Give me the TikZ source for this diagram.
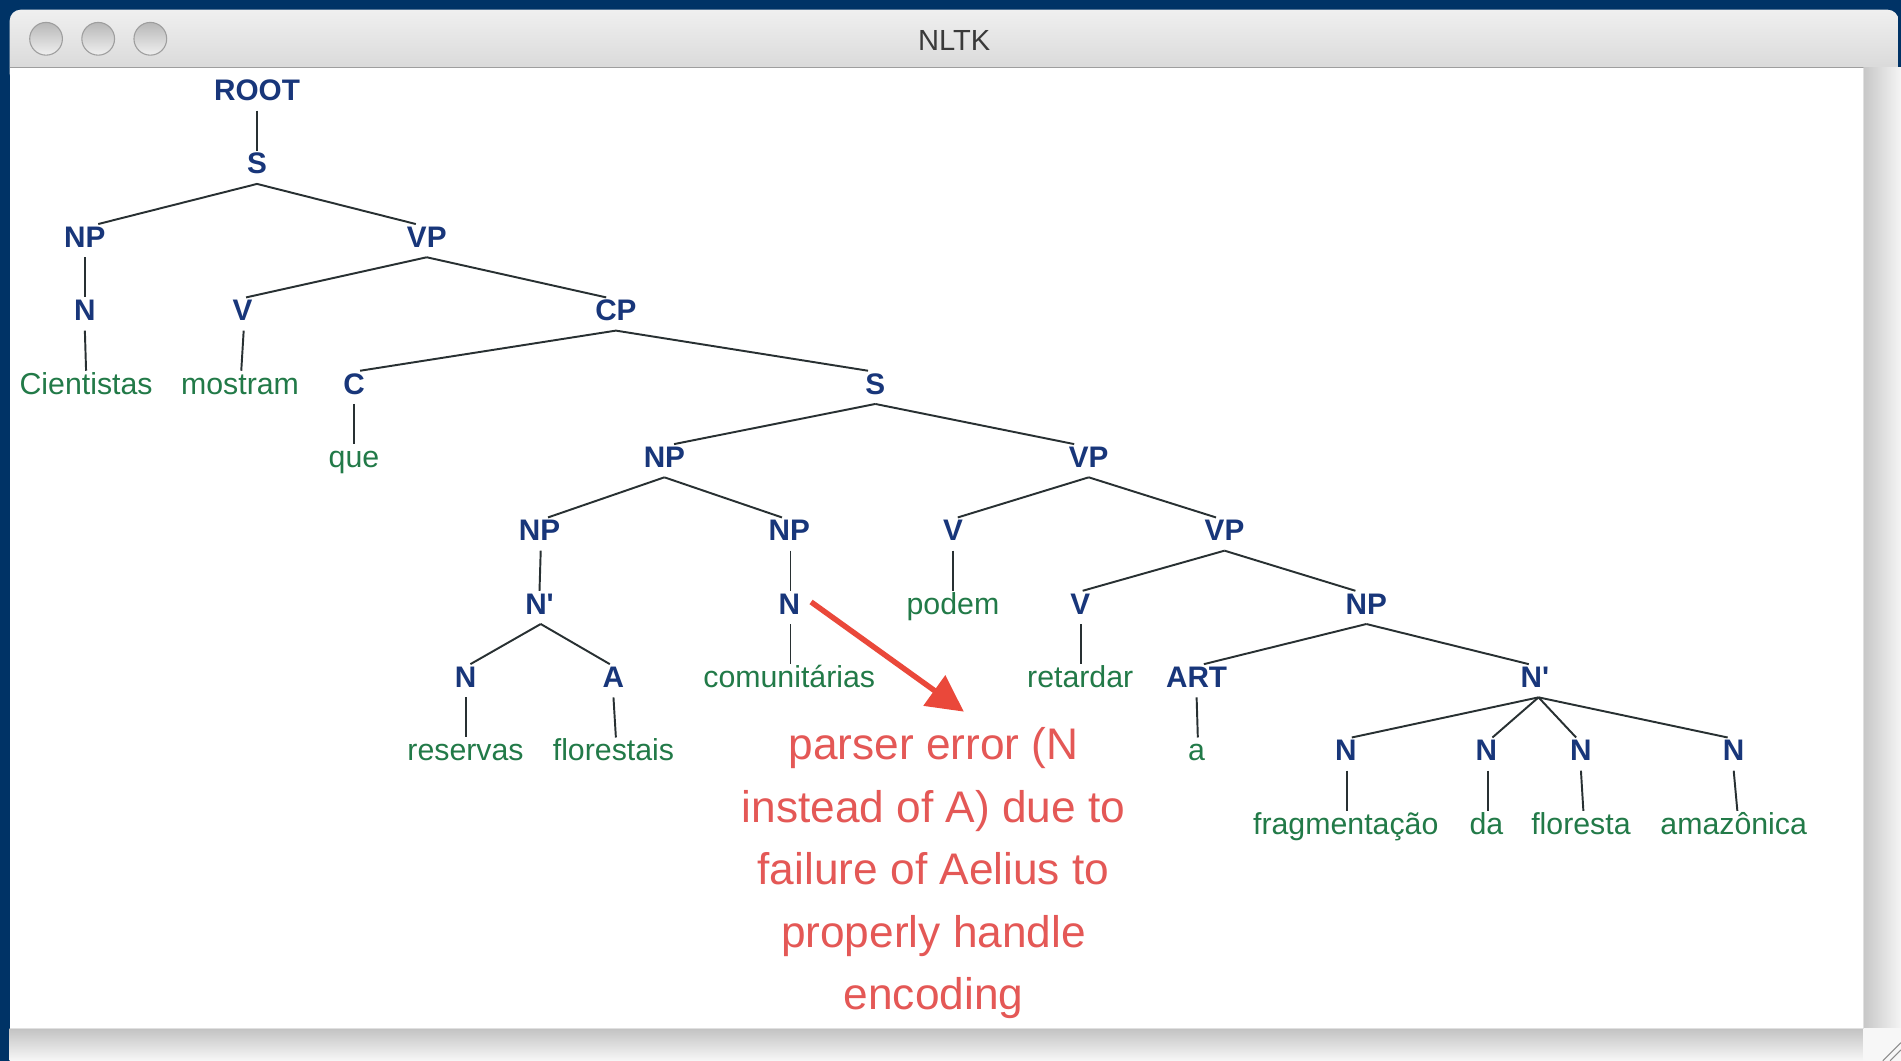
\documentclass[tikz,border=0pt]{standalone}
\usepackage{fontspec}
\setmainfont{Liberation Sans}
\newfontfamily\treefont{Liberation Sans}
\usetikzlibrary{arrows.meta,calc}

\definecolor{desk}{RGB}{0,51,102}
\definecolor{catblue}{RGB}{24,54,122}
\definecolor{wordgreen}{RGB}{34,122,72}
\definecolor{edgegray}{RGB}{40,48,50}
\definecolor{notered}{RGB}{228,88,86}
\definecolor{arrowred}{RGB}{234,72,58}
\definecolor{titlegray}{RGB}{58,58,58}

\begin{document}
\begin{tikzpicture}[x=1pt,y=-1pt,
  cat/.style={font=\treefont\fontsize{24.5}{29}\selectfont\bfseries, text=catblue,
              inner sep=0pt, text height=19pt, text depth=8pt, anchor=base},
  word/.style={font=\treefont\fontsize{25}{30}\selectfont, text=wordgreen,
              inner sep=0pt, text height=19pt, text depth=8pt, anchor=base},
  branch/.style={draw=edgegray, line width=1.6pt},
  light/.style={draw=black!38, line width=0.9pt, top color=black!28, bottom color=black!6},
]
\useasboundingbox (0,0) rectangle (1568,875);

% desktop behind the window
\fill[desk] (0,0) rectangle (1568,875);

% title bar
\shade[top color=black!6, bottom color=black!17, rounded corners=9pt]
  (8,8) rectangle (1566,70);
\fill[white] (8,56) rectangle (1537,848);
\draw[black!38, line width=1pt] (8,55.5) -- (1568,55.5);

% scroll strip on the right and status strip at the bottom
\shade[left color=black!22, right color=black!4] (1537,56) rectangle (1568,848);
\shade[top color=black!24, bottom color=black!3] (8,848) rectangle (1537,875);
\fill[black!3] (1537,848) rectangle (1568,875);
\draw[black!12, line width=0.8pt] (1537,56) -- (1537,848) -- (8,848);
\foreach \d in {0,6} {
  \draw[black!45, line width=0.9pt] (1553+\d,875) -- (1568,860+\d);
}

% window buttons
\foreach \bx [count=\i] in {38,81,124} {
  \shade[light] (\bx,32) circle (13.5);
}
\node[font=\fontsize{24}{28}\selectfont, text=titlegray] (title) at (787,33) {NLTK};

% ---------- parse tree ----------
\node[cat] (root) at (212,83) {ROOT};
\node[cat] (s1) at (212,143.5) {S};
\node[cat] (np1) at (70,204) {NP};
\node[cat] (vp1) at (352,204) {VP};
\node[cat] (n1) at (70,264.5) {N};
\node[cat] (v1) at (200,264.5) {V};
\node[cat] (cp) at (508,264.5) {CP};
\node[word] (w1) at (71,325) {Cientistas};
\node[word] (w2) at (198,325) {mostram};
\node[cat] (c) at (292,325) {C};
\node[cat] (s2) at (722,325) {S};
\node[word] (w3) at (292,385.5) {que};
\node[cat] (np2) at (548,385.5) {NP};
\node[cat] (vp2) at (898,385.5) {VP};
\node[cat] (np3) at (445,446) {NP};
\node[cat] (np4) at (651,446) {NP};
\node[cat] (v2) at (786,446) {V};
\node[cat] (vp3) at (1010,446) {VP};
\node[cat] (nb1) at (445,506.5) {N\textquotesingle};
\node[cat] (n2) at (651,506.5) {N};
\node[word] (w4) at (786,506.5) {podem};
\node[cat] (v3) at (891,506.5) {V};
\node[cat] (np5) at (1127,506.5) {NP};
\node[cat] (n3) at (384,567) {N};
\node[cat] (a) at (506,567) {A};
\node[word] (w5) at (651,567) {comunitárias};
\node[word] (w6) at (891,567) {retardar};
\node[cat] (art) at (987,567) {ART};
\node[cat] (nb2) at (1266,567) {N\textquotesingle};
\node[word] (w7) at (384,627.5) {reservas};
\node[word] (w8) at (506,627.5) {florestais};
\node[word] (w9) at (987,627.5) {a};
\node[cat] (n4) at (1110,627.5) {N};
\node[cat] (n5) at (1226,627.5) {N};
\node[cat] (n6) at (1304,627.5) {N};
\node[cat] (n7) at (1430,627.5) {N};
\node[word] (w10) at (1110,688) {fragmentação};
\node[word] (w11) at (1226,688) {da};
\node[word] (w12) at (1304,688) {floresta};
\node[word] (w13) at (1430,688) {amazônica};

\begin{scope}[branch]
\draw (root.south) -- (s1.north);
\draw (s1.south) -- ([xshift=11pt]np1.north);
\draw (s1.south) -- ([xshift=-9pt]vp1.north);
\draw (np1.south) -- (n1.north);
\draw (vp1.south) -- ([xshift=3pt]v1.north);
\draw (vp1.south) -- ([xshift=-8pt]cp.north);
\draw (n1.south) -- (w1.north);
\draw ([xshift=1pt]v1.south) -- ([xshift=1pt]w2.north);
\draw (cp.south) -- ([xshift=5pt]c.north);
\draw (cp.south) -- ([xshift=-6pt]s2.north);
\draw (c.south) -- (w3.north);
\draw (s2.south) -- ([xshift=8pt]np2.north);
\draw (s2.south) -- ([xshift=-12pt]vp2.north);
\draw (np2.south) -- ([xshift=7pt]np3.north);
\draw (np2.south) -- ([xshift=-6pt]np4.north);
\draw (vp2.south) -- ([xshift=4pt]v2.north);
\draw (vp2.south) -- ([xshift=-7pt]vp3.north);
\draw ([xshift=1pt]np3.south) -- (nb1.north);
\draw ([xshift=1pt]np4.south) -- ([xshift=1pt]n2.north);
\draw (v2.south) -- (w4.north);
\draw (vp3.south) -- ([xshift=2pt]v3.north);
\draw (vp3.south) -- ([xshift=-9pt]np5.north);
\draw ([xshift=1pt]nb1.south) -- ([xshift=4pt]n3.north);
\draw ([xshift=1pt]nb1.south) -- ([xshift=-3pt]a.north);
\draw ([xshift=1pt]n2.south) -- ([xshift=1pt]w5.north);
\draw ([xshift=1pt]v3.south) -- ([xshift=1pt]w6.north);
\draw (np5.south) -- ([xshift=6pt]art.north);
\draw (np5.south) -- ([xshift=-5pt]nb2.north);
\draw (n3.south) -- (w7.north);
\draw (a.south) -- ([xshift=2pt]w8.north);
\draw (art.south) -- ([xshift=1pt]w9.north);
\draw ([xshift=3pt]nb2.south) -- ([xshift=5pt]n4.north);
\draw ([xshift=3pt]nb2.south) -- ([xshift=5pt]n5.north);
\draw ([xshift=3pt]nb2.south) -- ([xshift=-4pt]n6.north);
\draw ([xshift=3pt]nb2.south) -- ([xshift=-5pt]n7.north);
\draw ([xshift=1pt]n4.south) -- ([xshift=1pt]w10.north);
\draw ([xshift=1pt]n5.south) -- ([xshift=1pt]w11.north);
\draw (n6.south) -- ([xshift=2pt]w12.north);
\draw (n7.south) -- ([xshift=3pt]w13.north);
\end{scope}

% ---------- annotation ----------
\node[font=\fontsize{36.5}{51.5}\selectfont, text=notered, align=center,
      inner sep=0pt, anchor=north] (note) at (770,600)
  {parser error (N\\instead of A) due to\\failure of Aelius to\\properly handle\\encoding};
\draw[arrowred, line width=4.5pt, -{Triangle[length=30pt,width=30pt]}]
  ($(n2.base)+(18,-10)$) -- ($(note.north)+(25,-13)$);
\end{tikzpicture}
\end{document}
